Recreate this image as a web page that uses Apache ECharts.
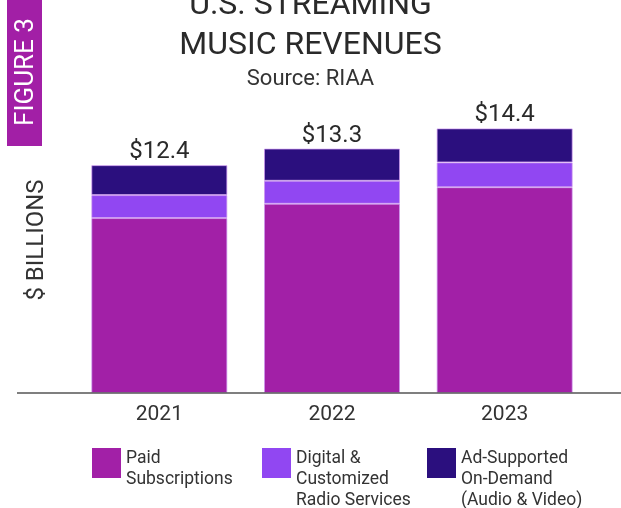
<!DOCTYPE html>
<html>
<head>
<meta charset="utf-8">
<script src="https://cdn.jsdelivr.net/npm/echarts@6/dist/echarts.min.js"></script>
<style>
  html, body { margin: 0; padding: 0; background: #fff; }
  #chart { width: 621px; height: 508px; }
</style>
</head>
<body>
<div id="chart"></div>
<script>
  // data ($ billions)
  var years = ['2021', '2022', '2023'];
  var paidSubs = [9.52, 10.3, 11.2];
  var digitalRadio = [1.25, 1.25, 1.35];
  var adSupported = [1.63, 1.75, 1.85];
  var totals = [12.4, 13.3, 14.4];

  var cPaid = '#A220A7';
  var cDigital = '#9147F2';
  var cAd = '#2B0F7E';
  var font = 'Roboto, "Noto Sans", sans-serif';

  var myChart = echarts.init(document.getElementById('chart'));

  // legend squares sit at the top of multi-line labels
  function legendAt(name, left, lines) {
    var h = lines * 21;
    return {
      data: [name],
      left: left,
      top: 448,
      padding: 0,
      orient: 'horizontal',
      selectedMode: false,
      itemWidth: 29,
      itemHeight: h,
      icon: 'path://M0 0H29V30H0Z M0 ' + h + 'H0.5',
      itemStyle: { borderWidth: 0 },
      textStyle: { fontFamily: font, fontSize: 17.5, lineHeight: 21, color: '#333' }
    };
  }

  var option = {
    animation: false,
    backgroundColor: '#fff',
    title: {
      text: 'U.S. STREAMING\nMUSIC REVENUES',
      subtext: 'Source: RIAA',
      left: 'center',
      top: -14,
      itemGap: 0,
      padding: 0,
      textStyle: { fontFamily: font, fontSize: 32, fontWeight: 'normal', lineHeight: 40, color: '#2a2a2a' },
      subtextStyle: { fontFamily: font, fontSize: 22, lineHeight: 26, color: '#333' }
    },
    legend: [
      legendAt('Paid\nSubscriptions', 92, 2),
      legendAt('Digital &\nCustomized\nRadio Services', 262, 3),
      legendAt('Ad-Supported\nOn-Demand\n(Audio & Video)', 427, 3)
    ],
    grid: { left: 73, right: 30, top: 99, bottom: 115 },
    xAxis: {
      type: 'category',
      data: years,
      axisLine: { show: false },
      axisTick: { show: false },
      axisLabel: { fontFamily: font, fontSize: 21, color: '#333', margin: 11 }
    },
    yAxis: {
      type: 'value',
      min: 0,
      max: 16,
      name: '$ BILLIONS',
      nameLocation: 'middle',
      nameGap: 24,
      nameRotate: 90,
      nameTextStyle: { fontFamily: font, fontSize: 24, color: '#333', padding: [0, 0, 0, 12] },
      axisLine: { show: false },
      axisTick: { show: false },
      axisLabel: { show: false },
      splitLine: { show: false }
    },
    series: [
      {
        name: 'Paid\nSubscriptions',
        type: 'bar',
        stack: 'rev',
        barWidth: 136,
        data: paidSubs,
        itemStyle: { color: cPaid, borderColor: 'rgba(205,150,240,0.7)', borderWidth: 1 }
      },
      {
        name: 'Digital &\nCustomized\nRadio Services',
        type: 'bar',
        stack: 'rev',
        data: digitalRadio,
        itemStyle: { color: cDigital, borderColor: 'rgba(205,150,240,0.7)', borderWidth: 1 }
      },
      {
        name: 'Ad-Supported\nOn-Demand\n(Audio & Video)',
        type: 'bar',
        stack: 'rev',
        data: adSupported,
        itemStyle: { color: cAd, borderColor: 'rgba(205,150,240,0.7)', borderWidth: 1 },
        label: {
          show: true,
          position: 'top',
          distance: 1,
          fontFamily: font,
          fontSize: 24,
          color: '#2a2a2a',
          formatter: function (p) { return '$' + totals[p.dataIndex].toFixed(1); }
        }
      }
    ],
    graphic: [
      // baseline running the full width
      {
        type: 'line',
        shape: { x1: 17, y1: 393, x2: 621, y2: 393 },
        style: { stroke: '#555', lineWidth: 1.5 },
        z: 10
      },
      // "FIGURE 3" tab
      {
        type: 'rect',
        shape: { x: 7, y: 0, width: 35, height: 146 },
        style: { fill: '#A21FA6' }
      },
      {
        type: 'text',
        x: 26,
        y: 72,
        rotation: Math.PI / 2,
        style: {
          text: 'FIGURE 3',
          fill: '#fff',
          font: '26px ' + font,
          align: 'center',
          verticalAlign: 'middle'
        }
      }
    ]
  };

  myChart.setOption(option);
</script>
</body>
</html>
